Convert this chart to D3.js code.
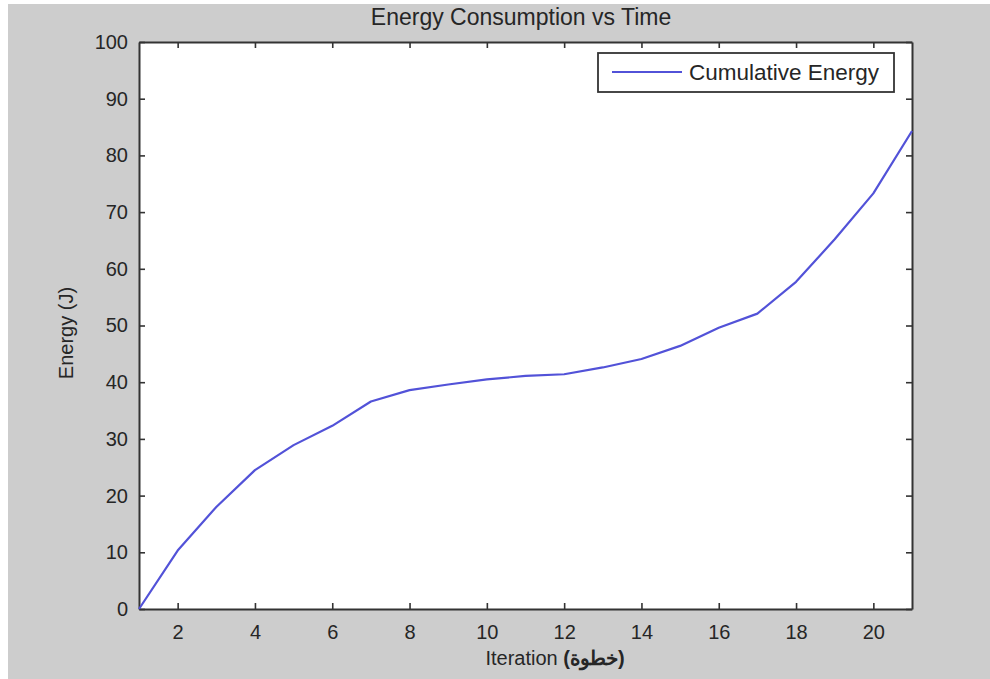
<!DOCTYPE html>
<html>
<head>
<meta charset="utf-8">
<script src="https://cdn.jsdelivr.net/npm/d3@7/dist/d3.min.js"></script>
<style>
  html, body { margin: 0; padding: 0; background: #ffffff; }
  svg { display: block; }
  text { font-family: "Liberation Sans", Arial, sans-serif; fill: #262626; }
</style>
</head>
<body>
<svg id="chart" width="990" height="679"></svg>
<script>
// Cumulative energy per iteration
const iterations = [1, 2, 3, 4, 5, 6, 7, 8, 9, 10, 11, 12, 13, 14, 15, 16, 17, 18, 19, 20, 21];
const energy = [0, 10.3, 18.0, 24.5, 28.9, 32.3, 36.6, 38.6, 39.6, 40.5, 41.1, 41.4, 42.6, 44.1, 46.4, 49.6, 52.1, 57.7, 65.2, 73.3, 84.3];
const xTicks = [2, 4, 6, 8, 10, 12, 14, 16, 18, 20];
const yTicks = [0, 10, 20, 30, 40, 50, 60, 70, 80, 90, 100];
const seriesName = "Cumulative Energy";

const svg = d3.select("#chart");
const W = 990, H = 679;
const margin = { left: 139, right: W - 912, top: 42, bottom: H - 609 };

// figure background
svg.append("rect").attr("x", 8).attr("y", 4).attr("width", W - 8).attr("height", H - 4).attr("fill", "#cdcdcd");

const x = d3.scaleLinear().domain([1, 21]).range([margin.left, W - margin.right]);
const y = d3.scaleLinear().domain([0, 100]).range([H - margin.bottom, margin.top]);

const pw = x.range()[1] - x.range()[0];
const ph = y.range()[0] - y.range()[1];

svg.append("rect").attr("x", margin.left).attr("y", margin.top)
  .attr("width", pw).attr("height", ph).attr("fill", "#ffffff");

const axisColor = "#333333";
const tickLen = 6;

// bottom axis with labels
const gx = svg.append("g").attr("transform", `translate(0,${y(0)})`)
  .call(d3.axisBottom(x).tickValues(xTicks).tickSizeInner(-tickLen).tickSizeOuter(0).tickPadding(16));
// top axis (ticks only)
const gxt = svg.append("g").attr("transform", `translate(0,${y(100)})`)
  .call(d3.axisTop(x).tickValues(xTicks).tickSizeInner(-tickLen).tickSizeOuter(0).tickFormat(""));
// left axis with labels
const gy = svg.append("g").attr("transform", `translate(${x(1)},0)`)
  .call(d3.axisLeft(y).tickValues(yTicks).tickSizeInner(-tickLen).tickSizeOuter(0).tickPadding(11));
// right axis (ticks only)
const gyr = svg.append("g").attr("transform", `translate(${x(21)},0)`)
  .call(d3.axisRight(y).tickValues(yTicks).tickSizeInner(-tickLen).tickSizeOuter(0).tickFormat(""));

[gx, gxt, gy, gyr].forEach(g => {
  g.select(".domain").attr("stroke", axisColor).attr("stroke-width", 2);
  g.selectAll(".tick line").attr("stroke", axisColor).attr("stroke-width", 1.6);
  g.selectAll(".tick text").attr("font-size", 20).attr("fill", "#262626")
    .attr("font-family", "'Liberation Sans', Arial, sans-serif");
});
gx.selectAll(".tick text").attr("dy", "0.71em");

// series line
const line = d3.line().x((d, i) => x(iterations[i])).y(d => y(d));
svg.append("path").datum(energy)
  .attr("d", line)
  .attr("fill", "none")
  .attr("stroke", "#5252d8")
  .attr("stroke-width", 2.2)
  .attr("stroke-linejoin", "round");

// title
svg.append("text").attr("x", 521).attr("y", 25)
  .attr("text-anchor", "middle").attr("font-size", 23)
  .text("Energy Consumption vs Time");

// axis labels
const xl = svg.append("text").attr("x", 555).attr("y", 665)
  .attr("text-anchor", "middle").attr("font-size", 20);
xl.append("tspan").text("Iteration ");
xl.append("tspan").attr("font-weight", "bold").text("(خطوة)");

svg.append("text")
  .attr("transform", `translate(73,${333}) rotate(-90)`)
  .attr("text-anchor", "middle").attr("font-size", 20)
  .text("Energy (J)");

// legend
const lg = svg.append("g");
lg.append("rect").attr("x", 598).attr("y", 53).attr("width", 296).attr("height", 39)
  .attr("fill", "#ffffff").attr("stroke", axisColor).attr("stroke-width", 1.8);
lg.append("line").attr("x1", 612).attr("x2", 682).attr("y1", 72).attr("y2", 72)
  .attr("stroke", "#5252d8").attr("stroke-width", 2.2);
lg.append("text").attr("x", 689).attr("y", 80).attr("font-size", 22.5).text(seriesName);
</script>
</body>
</html>
